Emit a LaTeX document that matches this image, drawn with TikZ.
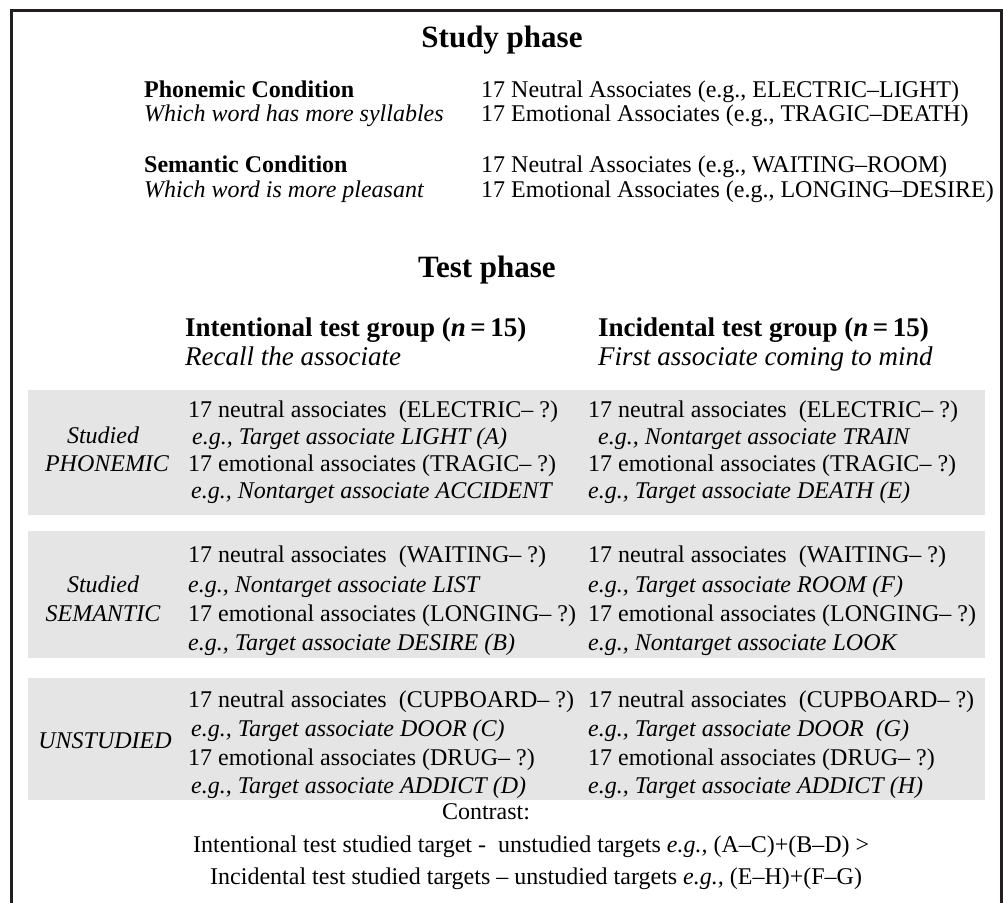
\documentclass[tikz,border=0pt]{standalone}
\usepackage{fontspec}
\setmainfont{Liberation Serif}

\definecolor{bandgray}{RGB}{229,229,229}
\definecolor{framegray}{RGB}{35,31,32}

\begin{document}
\begin{tikzpicture}[
    x=1pt,
    y=-1pt,
    phasetitle/.style={
        font=\fontsize{31}{36}\selectfont\bfseries,
        anchor=base,
        inner sep=0pt
    },
    bodytext/.style={
        font=\fontsize{24}{28}\selectfont,
        anchor=base west,
        inner sep=0pt
    },
    condname/.style={
        bodytext,
        font=\fontsize{24}{28}\selectfont\bfseries
    },
    condtask/.style={
        bodytext,
        font=\fontsize{24}{28}\selectfont\itshape
    },
    grouphead/.style={
        bodytext,
        font=\fontsize{27}{32}\selectfont\bfseries
    },
    grouptask/.style={
        bodytext,
        font=\fontsize{27}{32}\selectfont\itshape
    },
    rowlabel/.style={
        font=\fontsize{24}{28}\selectfont\itshape,
        anchor=base,
        inner sep=0pt
    },
    band/.style={
        fill=bandgray
    }
]

\useasboundingbox (0,0) rectangle (1003,902);

% Outer frame (runs off the bottom)
\draw[framegray, line width=3pt] (11,910) -- (11,10) -- (1001,10) -- (1001,910);

% ============ STUDY PHASE ============
\node[phasetitle] (study) at (502,47) {Study phase};

\def\condX{144}
\def\assocX{481}

\node[condname] (phon) at (\condX,97) {Phonemic Condition};
\node[condtask] (phontask) at (\condX,121) {Which word has more syllables};
\node[bodytext] (phonneu) at (\assocX,97) {17 Neutral Associates (e.g., ELECTRIC–LIGHT)};
\node[bodytext] (phonemo) at (\assocX,121) {17 Emotional Associates (e.g., TRAGIC–DEATH)};

\node[condname] (sem) at (\condX,172) {Semantic Condition};
\node[condtask] (semtask) at (\condX,197) {Which word is more pleasant};
\node[bodytext] (semneu) at (\assocX,172) {17 Neutral Associates (e.g., WAITING–ROOM)};
\node[bodytext] (sememo) at (\assocX,197) {17 Emotional Associates (e.g., LONGING–DESIRE)};

% ============ TEST PHASE ============
\node[phasetitle] (test) at (487,277) {Test phase};

\node[grouphead] (intgrp) at (185,336) {Intentional test group (\textit{n}\,=\,15)};
\node[grouptask] (inttask) at (185,365) {Recall the associate};
\node[grouphead] (incgrp) at (598,336) {Incidental test group (\textit{n}\,=\,15)};
\node[grouptask] (inctask) at (598,365) {First associate coming to mind};

% Shaded bands
\fill[band] (28,390) rectangle (985,515);
\fill[band] (28,531) rectangle (985,658);
\fill[band] (28,678) rectangle (985,800);

\def\colL{188}
\def\colR{588}
\def\labX{103}

% Studied phonemic
\node[rowlabel] (lab1a) at (\labX,443) {Studied};
\node[rowlabel] (lab1b) at (\labX+4,471) {PHONEMIC};
\node[bodytext] (l1a) at (\colL,417) {17 neutral associates\ \ (ELECTRIC– ?)};
\node[bodytext] (l1b) at (\colL+4,444) {\textit{e.g., Target associate LIGHT (A)}};
\node[bodytext] (l1c) at (\colL,471) {17 emotional associates (TRAGIC– ?)};
\node[bodytext] (l1d) at (\colL+3,498) {\textit{e.g., Nontarget associate ACCIDENT}};
\node[bodytext] (r1a) at (\colR,417) {17 neutral associates\ \ (ELECTRIC– ?)};
\node[bodytext] (r1b) at (\colR+10,444) {\textit{e.g., Nontarget associate TRAIN}};
\node[bodytext] (r1c) at (\colR,471) {17 emotional associates (TRAGIC– ?)};
\node[bodytext] (r1d) at (\colR,498) {\textit{e.g., Target associate DEATH (E)}};

% Studied semantic
\node[rowlabel] (lab2a) at (\labX,592) {Studied};
\node[rowlabel] (lab2b) at (\labX,621) {SEMANTIC};
\node[bodytext] (l2a) at (\colL,562) {17 neutral associates\ \ (WAITING– ?)};
\node[bodytext] (l2b) at (\colL,592) {\textit{e.g., Nontarget associate LIST}};
\node[bodytext] (l2c) at (\colL,621) {17 emotional associates (LONGING– ?)};
\node[bodytext] (l2d) at (\colL,650) {\textit{e.g., Target associate DESIRE (B)}};
\node[bodytext] (r2a) at (\colR,562) {17 neutral associates\ \ (WAITING– ?)};
\node[bodytext] (r2b) at (\colR,592) {\textit{e.g., Target associate ROOM (F)}};
\node[bodytext] (r2c) at (\colR,621) {17 emotional associates (LONGING– ?)};
\node[bodytext] (r2d) at (\colR,650) {\textit{e.g., Nontarget associate LOOK}};

% Unstudied
\node[rowlabel] (lab3) at (\labX+2,748) {UNSTUDIED};
\node[bodytext] (l3a) at (\colL,707) {17 neutral associates\ \ (CUPBOARD– ?)};
\node[bodytext] (l3b) at (\colL+3,736) {\textit{e.g., Target associate DOOR (C)}};
\node[bodytext] (l3c) at (\colL,765) {17 emotional associates (DRUG– ?)};
\node[bodytext] (l3d) at (\colL+3,793) {\textit{e.g., Target associate ADDICT (D)}};
\node[bodytext] (r3a) at (\colR,707) {17 neutral associates\ \ (CUPBOARD– ?)};
\node[bodytext] (r3b) at (\colR,736) {\textit{e.g., Target associate DOOR\ \ (G)}};
\node[bodytext] (r3c) at (\colR,765) {17 emotional associates (DRUG– ?)};
\node[bodytext] (r3d) at (\colR,793) {\textit{e.g., Target associate ADDICT (H)}};

% ============ CONTRAST ============
\node[font=\fontsize{24}{28}\selectfont, anchor=base, inner sep=0pt] (contrast) at (486,819) {Contrast:};
\node[bodytext] (cint) at (193,852) {Intentional test studied target -\ \ unstudied targets \textit{e.g.,} (A–C)+(B–D) >};
\node[bodytext] (cinc) at (210,884) {Incidental test studied targets – unstudied targets \textit{e.g.,} (E–H)+(F–G)};

\end{tikzpicture}
\end{document}
